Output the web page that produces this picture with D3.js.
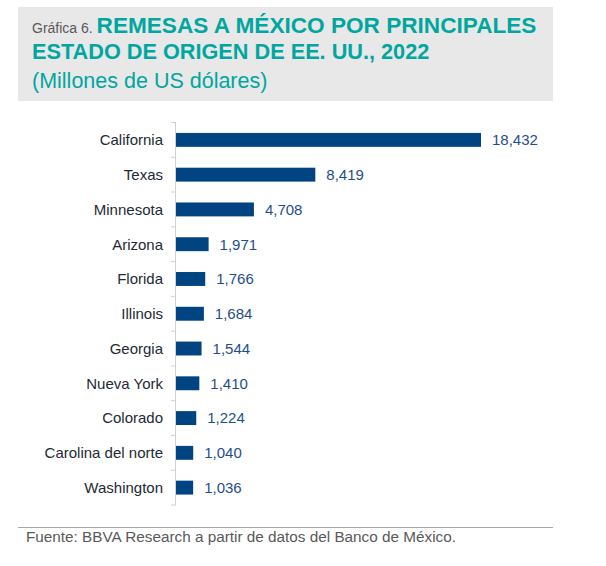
<!doctype html>
<html>

<head>
  <meta charset="utf-8">
  <title>Remesas a México</title>
  <style>
    body { margin: 0; background: #fff; }
    text { font-family: "Liberation Sans", Arial, sans-serif; }
  </style>
</head>

<body>
  <svg width="606" height="566"></svg>

  <script src="https://d3js.org/d3.v7.min.js"></script>
  <script>
    const estados = ['California', 'Texas', 'Minnesota', 'Arizona', 'Florida', 'Illinois',
      'Georgia', 'Nueva York', 'Colorado', 'Carolina del norte', 'Washington'];
    const remesas = [18432, 8419, 4708, 1971, 1766, 1684, 1544, 1410, 1224, 1040, 1036];

    const data = estados.map((d, i) => ({ estado: d, valor: remesas[i] }));

    const svg = d3.select('svg');

    // encabezado gris
    svg.append('rect')
      .attr('x', 18).attr('y', 7)
      .attr('width', 535).attr('height', 94)
      .attr('fill', '#e8e8e8');

    const t1 = svg.append('text').attr('x', 32).attr('y', 33);
    t1.append('tspan')
      .attr('fill', '#595959')
      .attr('font-size', 14)
      .text('Gráfica 6. ');
    t1.append('tspan')
      .attr('fill', '#00a6a0')
      .attr('font-size', 22.6)
      .attr('font-weight', 'bold')
      .text('REMESAS A MÉXICO POR PRINCIPALES');

    svg.append('text')
      .attr('x', 32).attr('y', 59)
      .attr('fill', '#00a6a0')
      .attr('font-size', 21.7)
      .attr('font-weight', 'bold')
      .text('ESTADO DE ORIGEN DE EE. UU., 2022');

    svg.append('text')
      .attr('x', 32).attr('y', 88)
      .attr('fill', '#00a6a0')
      .attr('font-size', 21.5)
      .text('(Millones de US dólares)');

    // gráfico
    const x0 = 176;
    const x = d3.scaleLinear()
      .domain([0, 18432])
      .range([x0, 481]);
    const y = d3.scaleBand()
      .domain(estados)
      .range([122.5, 505])
      .paddingInner(0.6)
      .paddingOuter(0.3);

    const g = svg.append('g');

    g.selectAll('rect.bar')
      .data(data)
      .join('rect')
      .attr('class', 'bar')
      .attr('x', x0)
      .attr('y', d => y(d.estado))
      .attr('width', d => x(d.valor) - x0)
      .attr('height', y.bandwidth())
      .attr('fill', '#004481');

    g.selectAll('text.valor')
      .data(data)
      .join('text')
      .attr('class', 'valor')
      .attr('x', d => x(d.valor) + 11)
      .attr('y', d => y(d.estado) + y.bandwidth() / 2)
      .attr('dy', '0.36em')
      .attr('fill', '#1f4e8c')
      .attr('font-size', 15)
      .text(d => d3.format(',')(d.valor));

    // eje y con marcas entre categorías
    const step = y.step();
    const bordes = d3.range(estados.length + 1).map(i => 122.5 + i * step);

    g.append('line')
      .attr('x1', x0 - 0.5).attr('x2', x0 - 0.5)
      .attr('y1', 122.5).attr('y2', 505)
      .attr('stroke', '#d0d0d0');

    g.selectAll('line.tick')
      .data(bordes)
      .join('line')
      .attr('class', 'tick')
      .attr('x1', x0 - 5).attr('x2', x0)
      .attr('y1', d => d).attr('y2', d => d)
      .attr('stroke', '#d0d0d0');

    g.selectAll('text.cat')
      .data(data)
      .join('text')
      .attr('class', 'cat')
      .attr('x', x0 - 13)
      .attr('y', d => y(d.estado) + y.bandwidth() / 2)
      .attr('dy', '0.36em')
      .attr('text-anchor', 'end')
      .attr('fill', '#222a35')
      .attr('font-size', 15)
      .text(d => d.estado);

    // pie
    svg.append('line')
      .attr('x1', 18).attr('x2', 553)
      .attr('y1', 527.5).attr('y2', 527.5)
      .attr('stroke', '#a6a6a6')
      .attr('stroke-width', 1.2);

    svg.append('text')
      .attr('x', 26).attr('y', 542)
      .attr('fill', '#595959')
      .attr('font-size', 15.3)
      .text('Fuente: BBVA Research a partir de datos del Banco de México.');
  </script>
</body>

</html>
